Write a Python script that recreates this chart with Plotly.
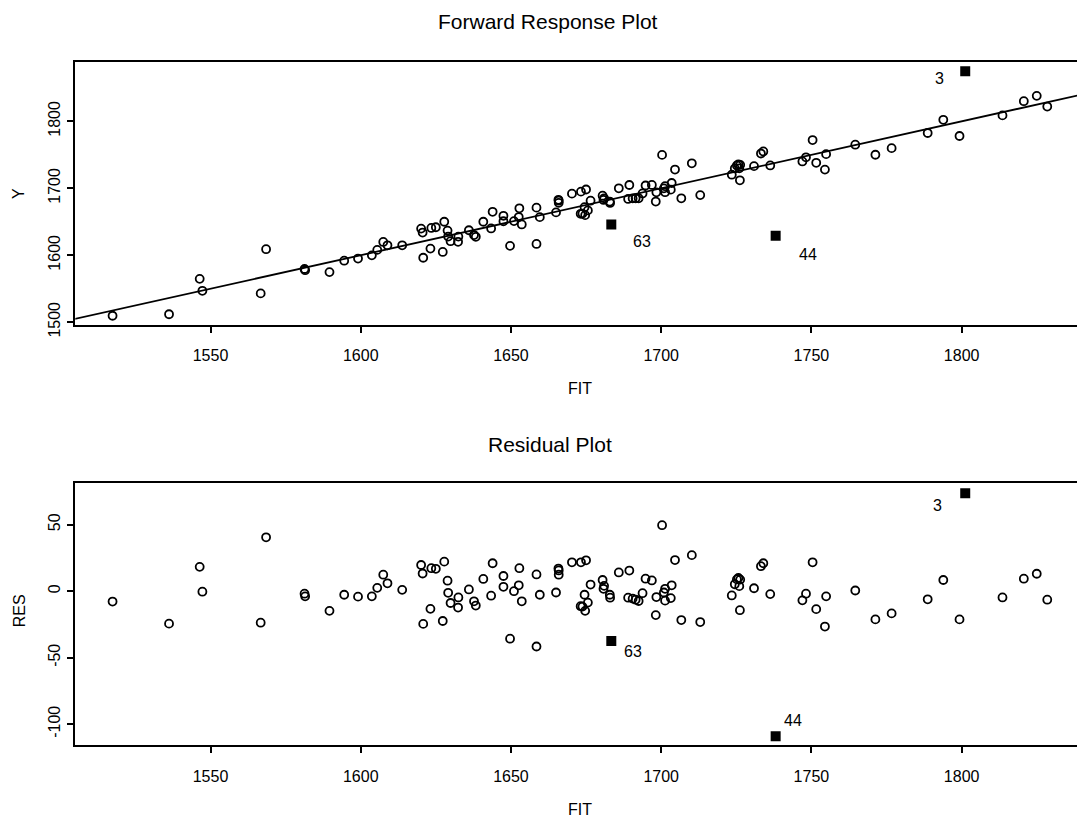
import plotly.graph_objects as go

# ---------------- data ----------------
fit = [1517.4, 1536.2, 1546.4, 1547.3, 1566.7, 1568.5, 1581.3, 1581.5, 1589.6, 1594.5,
       1599.1, 1603.7, 1605.5, 1607.5, 1608.9, 1613.8, 1620.1, 1620.6, 1620.8, 1623.2,
       1623.5, 1625.0, 1627.3, 1627.8, 1628.9, 1629.1, 1629.9, 1632.5, 1632.4, 1636.0,
       1637.7, 1638.3, 1640.8, 1643.4, 1643.9, 1647.5, 1647.5, 1649.7, 1651.0, 1652.6,
       1652.8, 1653.6, 1658.5, 1658.5, 1659.6, 1665.0, 1665.8, 1665.9, 1665.9, 1670.3,
       1673.3, 1675.0, 1673.2, 1673.8, 1675.6, 1674.7, 1674.5, 1676.5, 1680.5, 1681.0,
       1680.8, 1682.9, 1683.0, 1685.9, 1689.4, 1689.0, 1690.5, 1691.5, 1692.5, 1693.8,
       1694.8, 1696.9, 1698.2, 1698.4, 1700.3, 1700.9, 1701.3, 1701.3, 1703.2, 1703.5,
       1704.6, 1706.7, 1710.2, 1713.0, 1723.5, 1724.5, 1725.2, 1725.7, 1726.3, 1726.0,
       1726.2, 1730.9, 1733.2, 1734.0, 1736.3, 1747.0, 1748.2, 1750.4, 1751.6, 1754.5,
       1754.9, 1764.6, 1771.3, 1776.7, 1788.7, 1793.9, 1799.3, 1813.6, 1820.7, 1825.0,
       1828.5]

res = [-7.8, -24.4, 18.3, -0.4, -23.7, 40.5, -1.9, -3.9, -14.8, -2.7,
       -4.1, -3.9, 2.5, 12.4, 5.9, 1.0, 19.7, 13.3, -24.6, -13.3,
       17.3, 16.8, -22.4, 22.2, 7.9, -1.2, -8.9, -4.7, -12.3, 1.3,
       -7.6, -10.8, 9.2, -3.4, 21.0, 11.4, 3.3, -35.7, 0.0, 4.4,
       17.3, -7.6, 12.6, -41.6, -2.7, -1.0, 17.0, 15.6, 12.4, 21.7,
       21.7, 23.2, -11.3, -11.6, -8.6, -14.8, -2.7, 5.0, 8.4, 4.0,
       1.8, -2.7, -4.9, 14.1, 15.5, -4.9, -5.6, -6.4, -7.4, -1.5,
       9.4, 8.1, -18.0, -4.4, 49.6, -1.0, 1.8, -7.1, -5.2, 4.4,
       23.4, -21.7, 27.1, -23.2, -3.2, 5.2, 8.9, 9.9, 8.7, 3.8,
       -14.3, 2.2, 18.8, 21.0, -2.2, -6.9, -1.9, 21.7, -13.5, -26.6,
       -3.9, 0.5, -21.2, -16.7, -6.1, 8.4, -21.2, -4.7, 9.4, 13.1,
       -6.4]

y_obs = [1509.6, 1511.8, 1564.7, 1546.9, 1543.0, 1609.0, 1579.4, 1577.6, 1574.8, 1591.8,
         1595.0, 1599.8, 1608.0, 1619.9, 1614.8, 1614.8, 1639.8, 1633.9, 1596.2, 1609.9,
         1640.8, 1641.8, 1604.9, 1650.0, 1636.8, 1627.9, 1621.0, 1627.8, 1620.1, 1637.3,
         1630.1, 1627.5, 1650.0, 1640.0, 1664.9, 1658.9, 1650.8, 1614.0, 1651.0, 1657.0,
         1670.1, 1646.0, 1671.1, 1616.9, 1656.9, 1664.0, 1682.8, 1681.5, 1678.3, 1692.0,
         1695.0, 1698.2, 1661.9, 1662.2, 1667.0, 1659.9, 1671.8, 1681.5, 1688.9, 1685.0,
         1682.6, 1680.2, 1678.1, 1700.0, 1704.9, 1684.1, 1684.9, 1685.1, 1685.1, 1692.3,
         1704.2, 1705.0, 1680.2, 1694.0, 1749.9, 1699.9, 1703.1, 1694.2, 1698.0, 1707.9,
         1728.0, 1685.0, 1737.3, 1689.8, 1720.3, 1729.7, 1734.1, 1735.6, 1735.0, 1729.8,
         1711.9, 1733.1, 1752.0, 1755.0, 1734.1, 1740.1, 1746.3, 1772.1, 1738.1, 1727.9,
         1751.0, 1765.1, 1750.1, 1760.0, 1782.6, 1802.3, 1778.1, 1808.9, 1830.1, 1838.1,
         1822.1]

out_id = ["3", "63", "44"]
out_fit = [1801.2, 1683.4, 1738.1]
out_res = [73.7, -37.4, -109.0]
out_y = [1874.9, 1646.0, 1629.1]

x_ticks = [1550, 1600, 1650, 1700, 1750, 1800]
y_ticks = [1500, 1600, 1700, 1800]
res_ticks = [-100, -50, 0, 50]
res_tick_text = ["-100", "-50", "0", "50"]

# ---------------- layout helpers ----------------
W, H = 1077, 833
FONT = "Liberation Sans, Arial, Helvetica, sans-serif"


def px_x(p):
    return p / W


def px_y(p):
    return 1 - p / H


x_range = [1505.0, 1838.4]
y_range = [1496.0, 1888.2]
r_range = [-116.0, 81.3]

fig = go.Figure()

circ = dict(symbol="circle-open", size=8, color="black", line=dict(width=1.8, color="black"))
sq = dict(symbol="square", size=10, color="black", line=dict(width=0))

# top panel
fig.add_trace(go.Scatter(x=[x_range[0] - 20, x_range[1] + 20], y=[x_range[0] - 20, x_range[1] + 20],
                         mode="lines", line=dict(color="black", width=1.8),
                         xaxis="x", yaxis="y", hoverinfo="skip"))
fig.add_trace(go.Scatter(x=fit, y=y_obs, mode="markers", marker=circ, xaxis="x", yaxis="y"))
fig.add_trace(go.Scatter(x=out_fit, y=out_y, mode="markers", marker=sq, xaxis="x", yaxis="y"))

# bottom panel
fig.add_trace(go.Scatter(x=fit, y=res, mode="markers", marker=circ, xaxis="x2", yaxis="y2"))
fig.add_trace(go.Scatter(x=out_fit, y=out_res, mode="markers", marker=sq, xaxis="x2", yaxis="y2"))

axis_common = dict(showline=True, linecolor="black", linewidth=2, ticks="outside",
                   ticklen=6, tickwidth=1.5, tickcolor="black", showgrid=False,
                   zeroline=False, tickfont=dict(family=FONT, size=16, color="black"))

xdom = [px_x(75.3), 1.0]
fig.update_layout(
    width=W, height=H, margin=dict(l=0, r=0, t=0, b=0),
    paper_bgcolor="white", plot_bgcolor="white", showlegend=False,
    xaxis=dict(domain=xdom, range=x_range, tickvals=x_ticks, mirror=True,
               anchor="y", ticklabelstandoff=9, **axis_common),
    yaxis=dict(domain=[px_y(330), px_y(63.3)], range=y_range, tickvals=y_ticks,
               anchor="x", tickangle=-90, ticklabelstandoff=1, **axis_common),
    xaxis2=dict(domain=xdom, range=x_range, tickvals=x_ticks, mirror=True,
                anchor="y2", ticklabelstandoff=9, **axis_common),
    yaxis2=dict(domain=[px_y(757.3), px_y(490.7)], range=r_range, tickvals=res_ticks,
                ticktext=res_tick_text,
                anchor="x2", tickangle=-90, ticklabelstandoff=1, **axis_common),
)

anns = []
txt = dict(family=FONT, size=16, color="black")
ttl = dict(family=FONT, size=21, color="black")


def paper_text(text, x, y, font, angle=0):
    return dict(text=text, x=px_x(x), y=px_y(y), xref="paper", yref="paper",
                xanchor="center", yanchor="middle", showarrow=False,
                textangle=angle, font=font)


# titles
anns.append(paper_text("Forward Response Plot", 548, 22, ttl))
anns.append(paper_text("Residual Plot", 550, 452, ttl))
# axis titles
anns.append(paper_text("FIT", 580, 395, txt))
anns.append(paper_text("FIT", 580, 822, txt))
anns.append(paper_text("Y", 19, 197, txt, -90))
anns.append(paper_text("RES", 19, 621, txt, -90))

# point labels
top_shift = [(-26, -7), (31, -17), (32, -19)]
bot_shift = [(-28, -12), (22, -11), (17, 16)]
for i, lab in enumerate(out_id):
    anns.append(dict(text=lab, x=out_fit[i], y=out_y[i], xref="x", yref="y", showarrow=False,
                     xanchor="center", yanchor="middle",
                     xshift=top_shift[i][0], yshift=top_shift[i][1], font=txt))
    anns.append(dict(text=lab, x=out_fit[i], y=out_res[i], xref="x2", yref="y2", showarrow=False,
                     xanchor="center", yanchor="middle",
                     xshift=bot_shift[i][0], yshift=bot_shift[i][1], font=txt))

fig.update_layout(annotations=anns)
fig.write_html("out.html", config={"displayModeBar": False},
               post_script="document.body.style.margin='0';document.body.style.overflow='hidden';")
